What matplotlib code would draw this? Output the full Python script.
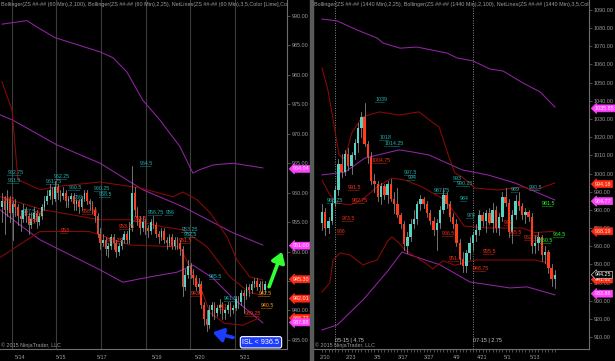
import matplotlib.pyplot as plt
from matplotlib.transforms import blended_transform_factory

FONT = ['Liberation Sans', 'DejaVu Sans']
plt.rcParams['font.family'] = FONT

# ---------------- 60 min panel (left) ----------------
l_open = [957.5, 958.5, 957, 959, 956.5, 958, 957.5, 956, 955.5, 957,
          956, 954.5, 955.5, 956.5, 955, 956, 957.5, 958.5, 959.5, 960.5,
          959, 961, 960, 959.5, 960, 958.5, 959, 959.5, 958, 958.5,
          957.5, 959, 960, 958.5, 958, 957, 956, 953, 951.5, 952,
          950.5, 951, 952.5, 951.5, 950, 951, 952, 953, 952, 954,
          960, 957, 955.5, 954, 955, 954, 953.5, 955, 954.5, 953,
          952.5, 953.5, 952, 951.5, 952.5, 951, 952, 951.5, 950.5, 944,
          946, 947.5, 946, 945.5, 944, 944.5, 941, 938.5, 937.5, 940,
          941, 939.5, 940.5, 941, 939.5, 940, 941, 940, 940.5, 942,
          941.5, 943, 942.5, 944, 943.5, 944.5, 945, 944, 944.5, 943.5]
l_high = [960, 959.5, 960.5, 959.5, 958.5, 959, 958, 957, 958, 957.5,
          956.5, 956.5, 957.5, 957, 956.5, 958, 959.5, 960.5, 961.5, 961,
          962, 961.5, 960.5, 961, 960.5, 959.5, 960, 960, 959, 959,
          959.5, 960.5, 960.5, 959, 958.5, 957.5, 956.5, 954, 953, 952.5,
          951.5, 953, 953, 952, 951.5, 952.5, 953.5, 953.5, 955, 964.5,
          961, 957.5, 956, 956, 955.5, 954.5, 955.5, 956, 955, 953.5,
          954, 954, 952.5, 953, 953, 952.5, 952.5, 952, 951, 947,
          948.5, 948, 947, 946, 945.5, 945, 941.5, 940, 941, 941.5,
          941.5, 941, 942, 941.5, 940.5, 941.5, 941.5, 941, 942.5, 942.5,
          943.5, 943.5, 944.5, 944.5, 945, 945.5, 945.5, 945, 945, 945]
l_low = [955, 953, 956, 955, 952, 956, 954.5, 953.5, 955, 955,
         953, 954, 955, 954, 954.5, 955.5, 957, 958, 959, 958,
         958.5, 959, 958.5, 959, 957.5, 957.5, 958.5, 957, 957, 956.5,
         957, 958.5, 958, 957, 956.5, 955, 952.5, 950.5, 951, 949.5,
         949, 950.5, 950.5, 949, 949.5, 950.5, 951.5, 951.5, 951.5, 953.5,
         956, 954.5, 953, 953.5, 953, 952.5, 953, 954, 952.5, 951.5,
         952, 951.5, 950.5, 951, 950.5, 950.5, 950.5, 949.5, 942.5, 943.5,
         945.5, 945.5, 944.5, 943.5, 943, 940.5, 937.5, 936.5, 937, 939,
         938.5, 939, 939.5, 938.5, 938.5, 939.5, 939, 939.5, 940, 940.5,
         941, 939.5, 942, 942.5, 943, 944, 943.5, 943.5, 943, 943]
l_close = [958.5, 957, 959, 956.5, 958, 957.5, 956, 955.5, 957, 956,
           954.5, 955.5, 956.5, 955, 956, 957.5, 958.5, 959.5, 960.5, 959,
           961, 960, 959.5, 960, 958.5, 959, 959.5, 958, 958.5, 957.5,
           959, 960, 958.5, 958, 957, 956, 953, 951.5, 952, 950.5,
           951, 952.5, 951.5, 950, 951, 952, 953, 952, 954, 960,
           957, 955.5, 954, 955, 954, 953.5, 955, 954.5, 953, 952.5,
           953.5, 952, 951.5, 952.5, 951, 952, 951.5, 950.5, 944, 946,
           947.5, 946, 945.5, 944, 944.5, 941, 938.5, 937.5, 940, 941,
           939.5, 940.5, 941, 939.5, 940, 941, 940, 940.5, 942, 941.5,
           943, 942.5, 944, 943.5, 944.5, 945, 944, 944.5, 943.5, 944.5]

# bollinger lines (bar index, price)
l_bb100_up = [(0, 988.6), (9.4, 989.2), (13.2, 988.1), (20, 986.3), (36.9, 983.9),
              (41.8, 982.9), (47, 980.5), (53, 975.7), (59.5, 972.3), (67, 967.8),
              (71.9, 963.3), (74.5, 963.9), (79.4, 964.7), (86.9, 965.0), (98.2, 964.2)]
l_bb100_mid = [(-0.7, 973.2), (4.1, 972.3), (20.7, 968.1), (36.9, 965.0), (53, 960.5),
               (68.1, 957.6), (86.9, 953.2), (98.2, 951.1)]
l_bb100_low = [(-0.7, 957.1), (6.8, 954.5), (14.3, 952.0), (21.8, 950.3), (36.9, 946.9),
               (45.5, 944.8), (55.7, 945.7), (65.9, 946.5), (71.9, 947.7), (79.4, 945.5),
               (86.9, 942.1), (98.2, 937.9)]
l_bb25_up = [(0, 978.8), (3.8, 974.0), (4.1, 972.3), (6, 962.2), (14.3, 960.5),
             (21.8, 961.1), (36.9, 961.8), (52, 960.8), (64.4, 959.3), (68.1, 960.1),
             (73.4, 958.8), (78.3, 956.6), (84.7, 952.5), (88.4, 948.6), (93.3, 945.7),
             (98.2, 945.2)]
l_bb25_mid = [(-0.7, 959.3), (15.4, 957.1), (36.9, 955.4), (48.2, 955.4), (60.6, 954.2),
              (68.1, 953.7), (77.2, 950.8), (85.8, 945.7), (93.3, 943.0), (98.2, 942.6)]
l_bb25_low = [(-0.7, 949.0), (6, 951.0), (14.3, 953.4), (33, 953.4), (48.2, 951.1),
              (67, 950.8), (75.6, 942.9), (78.3, 939.6), (83.9, 937.8), (90.7, 937.5),
              (97.1, 938.8)]

l_labels = [(2.0, 963.0, '962.75', 'c'), (2.0, 961.7, '961.5', 'c'), (19.5, 962.3, '962.25', 'c'),
            (16.5, 961.4, '961.75', 'c'), (25.0, 960.5, '960.5', 'c'), (27.0, 958.8, '959', 'c'),
            (34.5, 960.3, '960.25', 'c'), (36.5, 959.3, '958.5', 'c'), (8.0, 956.4, '957.5', 'c'),
            (52.0, 964.5, '964.5', 'c'), (55.0, 956.2, '956.75', 'c'), (61.5, 956.2, '956', 'c'),
            (67.5, 953.3, '953.25', 'c'), (68.5, 952.5, '952.5', 'c'), (78.0, 945.4, '945.5', 'c'),
            (83.5, 941.6, '941.5', 'c'),
            (0.0, 958.4, '958.5', 'r'), (12.5, 956.1, '958', 'r'), (10.0, 954.9, '956', 'r'),
            (30.0, 956.4, '958.25', 'r'), (22.0, 953.2, '953', 'r'), (44.0, 953.8, '953.75', 'r'),
            (39.5, 951.5, '951.25', 'r'), (49.5, 955.2, '955.5', 'r'), (66.5, 951.5, '951.5', 'r'),
            (71.0, 942.5, '943.5', 'r'), (81.5, 940.2, '941', 'r'), (91.5, 939.1, '939.25', 'r'),
            (96.5, 942.5, '942.5', 'o'), (97.5, 940.5, '940.5', 'o')]
l_markers = [(964.04, 'm'), (951.00, 'm'), (945.30, 'r'), (942.01, 'r'), (938.72, 'r'), (937.98, 'm')]
l_days = [3.8, 20.3, 37.3, 54.2, 70.8, 87.7]
l_tick_pos = [6.8, 22.2, 37.6, 58.3, 74.5, 91.5]
l_tick_lab = ['5/14', '5/15', '5/17', '5/19', '5/20', '5/21']
l_yticks = [935, 940, 945, 950, 955, 960, 965, 970, 975, 980, 985, 990]

# ---------------- daily panel (right) ----------------
r_open = [973, 979, 970, 974, 984, 991, 1005, 1001, 1011, 1004,
          1010, 1017, 1025, 1031, 1016, 1009, 996, 994, 987, 993,
          988, 994, 986, 983, 977, 972, 960, 965, 972, 975,
          983, 986, 983, 978, 974, 969, 973, 980, 988, 983,
          976, 972, 962, 953, 949, 956, 962, 966, 969, 977,
          974, 978, 973, 980, 970, 976, 987, 984, 968, 977,
          985, 982, 977, 979, 976, 960, 962, 965, 955, 957,
          948, 942]
r_high = [983, 981, 976, 986, 993, 1008, 1011, 1013, 1014, 1012,
          1019, 1028, 1034, 1039, 1018, 1012, 1000, 996, 995, 994,
          996, 997, 990, 992, 978, 974, 968, 975, 980, 985,
          988, 987, 985, 980, 976, 975, 982, 992, 990, 985,
          978, 975, 964, 957, 958, 965, 968, 972, 980, 979,
          980, 981, 984, 982, 978, 990, 992, 986, 980, 988,
          990, 984, 981, 980, 978, 966, 968, 966, 960, 958,
          950, 947]
r_low = [969, 966, 967, 972, 982, 988, 998, 999, 1002, 1000,
         1008, 1012, 1020, 1015, 1006, 994, 990, 985, 983, 986,
         984, 985, 978, 976, 970, 958, 956, 963, 970, 972,
         980, 981, 976, 972, 966, 958, 970, 978, 981, 974,
         970, 960, 950, 946, 946, 953, 958, 963, 966, 971,
         968, 972, 968, 968, 966, 974, 982, 965, 962, 975,
         980, 975, 973, 974, 956, 956, 958, 952, 951, 945,
         938, 937]
r_close = [979, 970, 974, 984, 991, 1005, 1001, 1011, 1004, 1010,
           1017, 1025, 1031, 1016, 1009, 996, 994, 987, 993, 988,
           994, 986, 983, 977, 972, 961, 965, 972, 975, 983,
           986, 983, 978, 974, 969, 973, 980, 988, 983, 976,
           972, 962, 953, 949, 956, 962, 966, 969, 977, 974,
           978, 973, 980, 970, 976, 987, 984, 968, 977, 985,
           982, 977, 979, 976, 960, 962, 965, 955, 957, 948,
           942, 944.25]

r_bb100_up = [(0, 1085), (4.6, 1084), (10.7, 1079), (16.8, 1074.6), (18.6, 1071.8),
              (23.8, 1069), (29, 1069.6), (32, 1068.5), (38.1, 1066.3), (41.2, 1063.6),
              (46, 1062), (51.2, 1057.5), (55.2, 1056.4), (61.3, 1049.8), (66.5, 1044.9),
              (71, 1036.6)]
r_bb100_mid = [(0, 999.2), (7, 1000.8), (13.1, 1008.5), (23.5, 1013), (27.4, 1011.9),
               (32.6, 1010.2), (42.7, 1002), (50.6, 999.2), (58.8, 994.8), (71, 985.4)]
r_bb100_low = [(0, 913.9), (4.6, 916.6), (12.5, 930.4), (19.8, 945.8), (24.4, 956.8),
               (26.8, 955.2), (36, 949.7), (45.1, 940.3), (57.3, 937), (62.5, 937.6),
               (71, 933.2)]
r_bb25_up = [(0, 1058.1), (1.8, 1046), (3.4, 1029.5), (5.2, 1010.2), (7, 1008),
             (9, 1022), (12.2, 1031), (17.4, 1033.9), (23.5, 1032.2), (29.6, 1033.9),
             (33.5, 1028.4), (35.7, 1025.6), (38.7, 1009.1), (40.5, 1000.3), (42.7, 998.1),
             (46.6, 992), (53.7, 990.9), (61, 992.6), (64.9, 990.9), (71, 994.8)]
r_bb25_mid = [(0, 996.4), (2.4, 988.2), (4.6, 983.8), (8.5, 982.7), (12.2, 985.4),
              (16.8, 992.6), (21.3, 997.5), (25.3, 996.4), (30.5, 992.6), (37.5, 985.4),
              (40.5, 978.3), (43.3, 971.1), (50.6, 970), (61, 970), (64.9, 967.5),
              (71, 968.2)]
r_bb25_low = [(0, 934.8), (2.4, 939.8), (3.4, 952.4), (5.5, 956.3), (8.5, 955.2),
              (12.5, 949.7), (16.8, 952.4), (20.1, 963), (21.3, 965.1), (23.5, 961.8),
              (25.3, 957.9), (31.4, 950.8), (33.8, 947.5), (36.9, 952), (40.5, 949.5),
              (46.6, 952.4), (57.3, 952.4), (64.9, 952.4), (68, 951), (69.5, 948),
              (71, 942)]

r_labels = [(16.3, 1039.4, '1039', 'c'), (17.5, 1018.5, '1018', 'c'), (19.0, 1015.2, '1014.25', 'c'),
            (25.0, 999.2, '997.5', 'c'), (26.0, 996.5, '994', 'c'), (1.5, 983.8, '983.25', 'c'),
            (34.0, 989.4, '987.75', 'c'), (40.0, 995.9, '993', 'c'), (41.0, 993.2, '990.25', 'c'),
            (42.0, 984.9, '984', 'c'), (44.0, 975.6, '978', 'c'), (57.5, 989.9, '989', 'c'),
            (63.0, 991.0, '990.5', 'c'),
            (8.0, 991.0, '991.5', 'r'), (9.0, 983.8, '982.75', 'r'), (15.0, 1005.8, '1004.75', 'r'),
            (6.0, 973.9, '973.5', 'r'), (4.5, 966.8, '966', 'r'), (36.5, 965.7, '966.5', 'r'),
            (38.5, 951.9, '951.5', 'r'), (49.0, 955.8, '955.5', 'r'), (46.0, 946.4, '948.75', 'r'),
            (55.5, 971.7, '972', 'r'), (57.0, 966.2, '965.5', 'r'), (61.5, 963.5, '962.75', 'r'),
            (67.0, 982.2, '981.5', 'g'), (70.5, 965.1, '964.5', 'g'), (66.5, 961.8, '960.5', 'g')]
r_markers = [(1035.85, 'm'), (994.18, 'r'), (984.77, 'm'), (968.19, 'r'), (941.62, 'r'),
             (944.25, 'k'), (933.86, 'm')]
r_days = [4, 46]
r_tick_pos = [0.9, 8.8, 16.8, 24.7, 32.6, 40.9, 48.8, 56.7, 64.9]
r_tick_lab = ['2/10', '2/23', '3/5', '3/17', '3/27', '4/9', '4/21', '5/1', '5/13']
r_yticks = list(range(910, 1091, 10))

UP, DOWN, WICK = '#58d2c2', '#ff3d1c', '#a0a0a0'
PURPLE, DRED = '#9424a6', '#8c0a06'
LBL = {'c': '#1fb3b3', 'r': '#ff2e16', 'o': '#ff9a10', 'g': '#22ff22'}
GRAY = '#9c9c9c'

W, H = 615, 361
fig = plt.figure(figsize=(W / 100, H / 100), dpi=100, facecolor='black')
ax1 = fig.add_axes([0, 12 / H, 287 / W, 349 / H])
ax2 = fig.add_axes([313 / W, 12 / H, 276 / W, 349 / H])
fig.patches.append(plt.Rectangle((310 / W, 0), 3 / W, 1, transform=fig.transFigure,
                                 color='#5a5a5a', zorder=0))


def style(ax, xlim, ylim, yticks, tpos, tlab):
    ax.set_facecolor('black')
    ax.set_xlim(*xlim)
    ax.set_ylim(*ylim)
    for s in ('top', 'left'):
        ax.spines[s].set_visible(False)
    for s in ('right', 'bottom'):
        ax.spines[s].set_color('#6e6e6e')
        ax.spines[s].set_linewidth(0.8)
    ax.yaxis.tick_right()
    ax.set_yticks(yticks)
    ax.set_yticklabels([f'{v:.2f}' for v in yticks])
    ax.tick_params(axis='y', colors='#6e6e6e', labelcolor=GRAY, labelsize=3.9,
                   length=2, width=0.5, pad=1.5)
    ax.set_xticks(tpos)
    ax.set_xticklabels(tlab)
    ax.tick_params(axis='x', colors='#6e6e6e', labelcolor=GRAY, labelsize=3.9,
                   length=0, pad=4)


def candles(ax, o, h, lo, c, width):
    for i in range(len(o)):
        ax.plot([i, i], [lo[i], h[i]], color=WICK, lw=0.5, zorder=3)
    x = list(range(len(o)))
    heights = [max(abs(c[i] - o[i]), 0.25) for i in x]
    bottoms = [min(o[i], c[i]) for i in x]
    cols = [UP if c[i] >= o[i] else DOWN for i in x]
    ax.bar(x, heights, bottom=bottoms, width=width, color=cols, lw=0, zorder=4)


def line(ax, pts, color, lw=0.75):
    ax.plot([p[0] for p in pts], [p[1] for p in pts], color=color, lw=lw, zorder=2)


def netlabels(ax, items, cw):
    for x, y, t, k in items:
        ax.text(x, y, t, color=LBL[k], fontsize=3.8, ha='left', va='bottom', zorder=6)
        ax.plot([x, x + cw * len(t)], [y, y], color=LBL[k], lw=0.6,
                ls=(0, (0.6, 0.7)), zorder=6)


def markers(ax, items, axw):
    tr = blended_transform_factory(ax.transAxes, ax.transData)
    face = {'m': '#ff40ff', 'r': '#ff2a12', 'k': 'black'}
    edge = {'m': '#ff40ff', 'r': '#ff2a12', 'k': '#c8c8c8'}
    tcol = {'m': '#ffe6ff', 'r': '#ffe2dc', 'k': 'white'}
    for p, k in items:
        ax.text(1 + 6 / axw, p, f'{p:.2f}', transform=tr, fontsize=3.9, color=tcol[k],
                ha='left', va='center', clip_on=False, zorder=10,
                bbox=dict(boxstyle='larrow,pad=0.18', fc=face[k], ec=edge[k], lw=0.5))


# ---- left ----
style(ax1, (-0.75, 107.3), (933.46, 992.7), l_yticks, l_tick_pos, l_tick_lab)
for d in l_days:
    ax1.axvline(d, color='#3c3c3c', lw=0.8, zorder=1)
line(ax1, l_bb100_up, PURPLE)
line(ax1, l_bb100_mid, PURPLE)
line(ax1, l_bb100_low, PURPLE)
line(ax1, l_bb25_up, DRED)
line(ax1, l_bb25_mid, DRED)
line(ax1, l_bb25_low, DRED)
candles(ax1, l_open, l_high, l_low, l_close, 0.6)
netlabels(ax1, l_labels, 0.85)
markers(ax1, l_markers, 287)
ax1.text(0.004, 0.995, 'Bollinger(ZS ##-## (60 Min),2,100), Bollinger(ZS ##-## (60 Min),2,25), '
         'NetLines(ZS ##-## (60 Min),3,5,Color [Lime],Color [DarkGreen],Color [Cyan])',
         transform=ax1.transAxes, fontsize=3.9, color=GRAY, ha='left', va='top', clip_on=True)
ax1.text(0.004, 0.004, '\u00a9 2015 NinjaTrader, LLC', transform=ax1.transAxes,
         fontsize=3.9, color=GRAY, ha='left', va='bottom')
ax1.annotate('', xy=(105.8, 950.4), xytext=(100.2, 943.6),
             arrowprops=dict(arrowstyle='-|>,head_width=0.4,head_length=0.6',
                             color='#33ff33', lw=2.6), zorder=8)
ax1.annotate('', xy=(78.3, 936.4), xytext=(88.0, 935.3),
             arrowprops=dict(arrowstyle='-|>,head_width=0.4,head_length=0.6',
                             color='#1c3cff', lw=2.6), zorder=8)
ax1.text(97.5, 934.6, 'ISL < 936.5', fontsize=5.2, color='white', ha='center', va='center',
         zorder=9, bbox=dict(boxstyle='round,pad=0.3', fc='#1c3cff', ec='white', lw=0.8))

# ---- right ----
style(ax2, (-2.74, 81.4), (903.4, 1095.5), r_yticks, r_tick_pos, r_tick_lab)
ax2.set_xticks(list(range(len(r_open))), minor=True)
ax2.tick_params(axis='x', which='minor', colors='#6e6e6e', length=2, width=0.5)
for d in r_days:
    ax2.axvline(d, color='#8a8a8a', lw=0.7, ls=(0, (1, 1.5)), zorder=1)
line(ax2, r_bb100_up, PURPLE)
line(ax2, r_bb100_mid, PURPLE)
line(ax2, r_bb100_low, PURPLE)
line(ax2, r_bb25_up, DRED)
line(ax2, r_bb25_mid, DRED)
line(ax2, r_bb25_low, DRED)
candles(ax2, r_open, r_high, r_low, r_close, 0.75)
netlabels(ax2, r_labels, 0.68)
markers(ax2, r_markers, 276)
ax2.text(0.004, 0.995, 'Bollinger(ZS ##-## (1440 Min),2,25), Bollinger(ZS ##-## (1440 Min),2,100), '
         'NetLines(ZS ##-## (1440 Min),3,5,Color [Lime],Color [DarkGreen])',
         transform=ax2.transAxes, fontsize=3.9, color=GRAY, ha='left', va='top', clip_on=True)
ax2.text(0.008, 0.004, '\u00a9 2015 NinjaTrader, LLC', transform=ax2.transAxes,
         fontsize=3.9, color=GRAY, ha='left', va='bottom')
ax2.text(4.0, 908.0, '05-15 | 4.75', fontsize=3.9, color='#c8c8c8', ha='left', va='center')
ax2.text(46.0, 908.0, '07-15 | 2.75', fontsize=3.9, color='#c8c8c8', ha='left', va='center')

fig.savefig('out.png', dpi=100, facecolor='black')
